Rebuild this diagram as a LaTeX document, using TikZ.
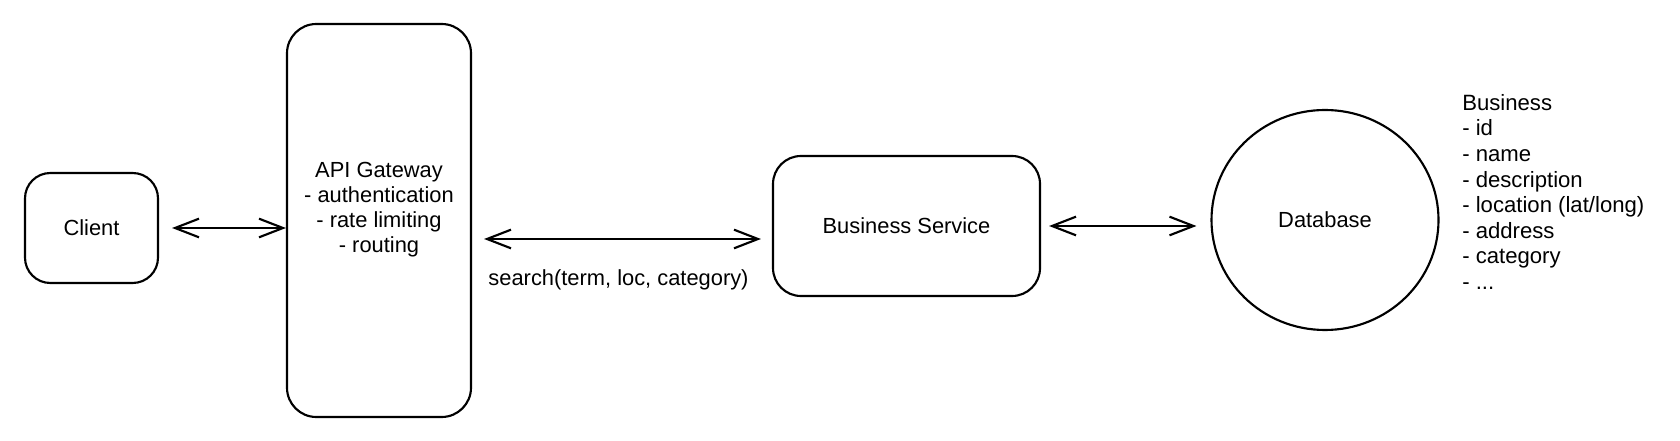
\documentclass[tikz,border=0pt]{standalone}
\usepackage{fontspec}
\setmainfont{Liberation Sans}
\usetikzlibrary{arrows.meta,shapes.geometric}
\newcommand\dgfont{\fontsize{16.4pt}{18.6pt}\selectfont}
\newcommand\dglistfont{\fontsize{16.6pt}{19.2pt}\selectfont}
\begin{document}
\begin{tikzpicture}[x=0.75pt,y=-0.75pt,
  box/.style={draw,line width=1.6pt,rounded corners=#1,inner sep=0pt,font=\dgfont,align=center},
  dbshape/.style={ellipse,draw,line width=1.6pt,inner sep=0pt,font=\dgfont},
  lbl/.style={font=\dgfont,inner sep=0pt,align=center},
  arr/.style={line width=1.6pt,line cap=round,{Straight Barb[length=18pt,width=14pt,line width=1.6pt]}-{Straight Barb[length=18pt,width=14pt,line width=1.6pt]}}]
\fill[white] (0,0) rectangle (1680,441);
\useasboundingbox (0,0) rectangle (1680,441);
\node[box=19pt,minimum width=99.75pt,minimum height=82.5pt] (client) at (91.5,228) {Client};
\node[box=22pt,minimum width=138pt,minimum height=294.75pt] (gw) at (379,220.5) {};
\node[lbl] (gwlabel) at (379,209.5) {API Gateway\\- authentication\\- rate limiting\\- routing};
\node[box=21pt,minimum width=200.25pt,minimum height=105pt] (bs) at (906.5,226) {Business Service};
\node[dbshape,minimum width=170.25pt,minimum height=165pt] (db) at (1325,220) {Database};
\node[anchor=north west,align=left,font=\dglistfont,inner sep=0pt] (biz) at (1462,94)
  {Business\\- id\\- name\\- description\\- location (lat/long)\\- address\\- category\\- ...};
\node[lbl] (search) at (618.5,280) {search(term, loc, category)};
\draw[arr] ([shift={(13,0)}]client.east) -- (client.east -| gw.west);
\draw[arr] ([shift={(12,18.5)}]gw.east) -- ([shift={(-11,13)}]bs.west);
\draw[arr] ([shift={(8,0)}]bs.east) -- ([shift={(-14,0)}]bs.east -| db.west);
\end{tikzpicture}
\end{document}
